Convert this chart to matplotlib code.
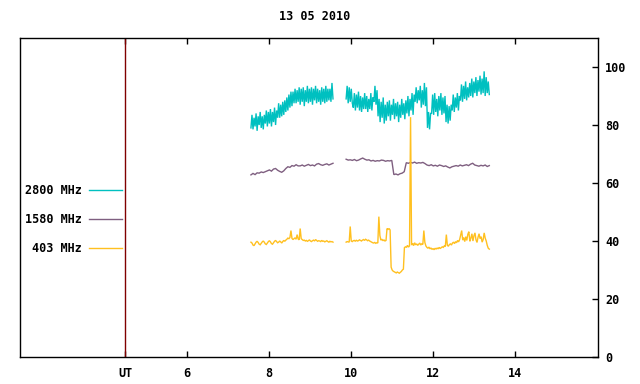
import numpy as np
import matplotlib
matplotlib.use("Agg")
import matplotlib.pyplot as plt
from matplotlib.lines import Line2D

title = "13 05 2010"
labels = ["2800 MHz", "1580 MHz", "403 MHz"]
colors = ["#00C0C0", "#7F5F80", "#FFC020"]
xticks = [4.5, 6, 8, 10, 12, 14]
xticklabels = ["UT", "6", "8", "10", "12", "14"]
yticks = [0, 20, 40, 60, 80, 100]
ut_line = 4.5

# segment time spans (hours UT)
seg1_span = (7.56, 9.56)
seg2_span = (9.88, 13.37)

# 2800 MHz
f2800_seg1 = [79, 83.5, 78.5, 82.5, 79.5, 84, 78, 83, 80, 84.5, 79, 83, 78.5, 83.5,
              80.5, 85, 79.5, 84.5, 80.5, 85.5, 79.5, 84.5, 81, 86, 80, 85,
              82.5, 87.5, 82.5, 87, 83, 88, 83.5, 88.5,
              84.5, 89.5, 85, 90.5, 86, 91.5, 86.5, 91.5,
              87.5, 92.5, 87.5, 92, 88, 93, 87, 92.5, 88, 93, 86.5, 92, 88, 93.5,
              87.5, 92.5, 88, 93, 87, 92.5, 88.5, 93.5, 87.5, 92.5, 88, 92, 87, 93,
              88, 92.5, 87.5, 93.5, 88, 92.5, 88.5, 92.5, 88, 94.5, 89]
f2800_seg2 = [89, 93.5, 87.5, 93, 88, 92.5, 87.5,
              86, 91, 85, 90.5, 86, 91.5, 85, 90, 84.5, 89.5, 85.5, 91, 85.5, 90,
              84.5, 89, 85.5, 91, 85, 89.5,
              88, 93.5, 87, 92,
              83, 89, 81, 88, 82.5, 89.5, 80.5, 87, 81.5, 88,
              83, 88.5, 81.5, 87, 83.5, 89, 82, 87.5, 83, 88, 81, 87, 82.5, 89,
              83.5, 87.5, 82, 88.5,
              84, 90, 83, 89, 85, 91, 83.5, 90.5,
              88, 93, 87.5, 92, 88.5, 93.5,
              86, 92, 87, 94.5, 86.5, 93,
              79, 84.5, 78.5, 84,
              84, 90.5, 83.5, 91, 84.5, 89, 83, 90, 85, 91, 83.5, 89.5, 84, 90,
              81, 87, 80.5, 86.5, 81.5, 87,
              85, 90.5, 84.5, 89.5, 86, 91, 85, 90,
              88.5, 94, 88, 93.5, 89, 95, 88.5, 93, 89.5, 94.5,
              90, 96, 89.5, 95, 91, 96.5, 90, 95.5, 91.5, 97, 90.5, 96, 91, 98.5,
              90, 96.5, 91, 95, 90.5]

# 1580 MHz
f1580_seg1 = [62.8, 63.3, 62.9, 63.5, 63.4, 63.8, 63.6,
              63.9, 64.2, 64.5, 64.1, 64.8, 65.0, 64.4,
              64.0, 63.7, 64.2,
              65.0, 65.6, 65.4, 66.0, 65.8, 66.3, 65.9,
              65.9, 66.2, 65.8, 66.1, 66.4, 66.0, 66.2, 65.9, 66.5, 66.7, 66.3,
              66.1, 66.4, 66.6, 66.2, 66.5, 66.8]
f1580_seg2 = [68.2, 67.9, 68.0, 67.8, 68.1, 67.7, 67.9, 68.3, 68.6, 68.2, 67.9,
              68.0, 67.6, 67.8, 67.5, 67.7, 67.6, 67.9, 67.8, 67.5, 67.7, 67.6, 67.8,
              62.9, 63.1, 62.8, 63.2, 63.4, 63.9,
              67.0, 66.8, 67.1, 66.9, 67.2, 66.8, 67.0, 66.9, 67.1, 66.7,
              66.2, 66.0, 66.3, 65.9, 66.1, 65.8, 66.2, 66.0, 65.7, 65.9,
              65.5, 65.2, 65.6, 65.8,
              66.0, 65.8, 66.2, 65.9, 66.1, 66.3, 66.0, 66.5, 66.8, 66.2, 66.0,
              65.8, 66.1, 65.9, 66.2, 65.7, 66.0]

# 403 MHz
f403_seg1 = [39.6, 39.3, 38.6, 38.4, 39.0, 39.6, 39.9, 39.5, 38.9, 38.7, 39.2,
             39.7, 40.0, 39.6, 39.0, 38.8, 39.3, 39.8, 40.1, 39.7, 39.1, 38.9,
             39.4, 39.9, 40.2, 39.8, 39.4, 39.6, 40.0, 39.7, 39.3, 39.8, 40.2, 39.9,
             40.3, 40.6, 41.0, 40.8, 41.2, 43.6, 40.9, 40.5, 40.8, 41.1, 40.6,
             42.2, 40.7, 40.4, 44.3, 40.8, 40.5, 40.2,
             40.3, 40.0, 40.2, 39.9, 40.1, 40.4, 40.0, 39.8, 40.1, 40.3, 40.0,
             40.5, 40.2, 39.9, 40.1, 40.0, 39.8, 40.2, 39.9, 40.0, 39.7, 39.9,
             40.1, 39.8, 39.6, 39.9, 39.7, 39.8, 39.6]
f403_seg2 = [39.6, 39.8, 39.7, 39.6, 45.0,
             40.0, 39.8, 40.1, 40.2, 39.9, 40.3, 40.0, 40.1, 40.4, 40.2, 40.0,
             40.3, 40.5, 40.2, 40.6, 40.4, 40.1, 40.3, 40.0, 39.8, 39.6, 39.4,
             39.3, 39.5, 39.2, 39.4, 39.3,
             48.4, 41.9,
             40.3, 40.6, 40.1, 40.4, 40.0, 40.2,
             44.3, 44.0, 44.3, 43.8,
             31.0,
             30.0, 29.6, 29.4, 29.2, 29.0, 29.3, 29.1, 28.9, 29.2, 29.5, 30.0,
             30.3, 37.7,
             38.0, 37.8, 38.5, 37.9, 38.3,
             82.7,
             38.6, 39.2, 38.4, 39.4, 38.7, 39.0, 38.5, 38.9, 39.3, 38.6, 39.1, 38.8,
             43.6,
             39.5, 38.3, 37.8, 37.5, 37.9, 37.3, 37.6, 37.1, 37.4, 37.0, 37.5,
             37.2, 37.6, 37.3, 37.8, 37.4, 37.7,
             38.0, 37.8, 38.3, 38.1,
             42.2,
             38.5, 38.2, 38.8, 39.0, 38.6, 39.3, 39.6, 39.1, 39.8, 39.4, 40.2, 39.7,
             40.5, 42.0, 43.6, 40.3, 41.2, 39.8, 41.5, 40.2, 42.3, 43.2, 39.9,
             41.0, 42.5, 40.0, 41.8, 42.8, 40.4, 39.5, 41.3, 42.5, 40.8, 41.5,
             39.6, 40.5, 42.8, 41.0,
             40.0, 38.5, 37.5, 37.2]

series = [(f2800_seg1, f2800_seg2), (f1580_seg1, f1580_seg2), (f403_seg1, f403_seg2)]

FONT = "DejaVu Sans Mono"
FS = 8.5

fig = plt.figure(figsize=(6.4, 3.84), dpi=100)
ax = fig.add_axes([20/640, 1-357/384, (598-20)/640, (357-38)/384])

handles = []
for (s1, s2), c, lab in zip(series, colors, labels):
    t1 = np.linspace(seg1_span[0], seg1_span[1], len(s1))
    t2 = np.linspace(seg2_span[0], seg2_span[1], len(s2))
    ax.plot(t1, s1, color=c, lw=1.0, solid_joinstyle="miter")
    ax.plot(t2, s2, color=c, lw=1.0, solid_joinstyle="miter")
    handles.append(Line2D([], [], color=c, lw=1.0))

ax.axvline(ut_line, color="#800000", lw=1.0)

ax.set_xlim(1.93, 16.02)
ax.set_ylim(0, 110)
ax.set_xticks(xticks)
ax.set_xticklabels(xticklabels)
ax.yaxis.tick_right()
ax.set_yticks(yticks)
ax.set_yticklabels([str(v) for v in yticks])
ax.tick_params(axis="x", direction="in", length=4, width=1, top=True, bottom=True, pad=7)
ax.tick_params(axis="y", direction="in", length=4, width=1, right=True, left=False, pad=5)
for lbl in ax.get_xticklabels() + ax.get_yticklabels():
    lbl.set_fontfamily(FONT)
    lbl.set_fontsize(FS)
    lbl.set_fontweight("bold")
for sp in ax.spines.values():
    sp.set_linewidth(1.0)

leg = ax.legend(handles, labels, markerfirst=False, frameon=False,
                loc="upper right", bbox_to_anchor=(122/640, 1-184/384),
                bbox_transform=fig.transFigure, borderpad=0, borderaxespad=0,
                handlelength=2.8, handletextpad=0.6, labelspacing=1.34,
                prop={"family": FONT, "size": FS, "weight": "bold"})
for t in leg.get_texts():
    t.set_ha("right")

fig.text(315/640, 1-17/384, title, ha="center", va="center",
         fontfamily=FONT, fontsize=FS, fontweight="bold")

fig.savefig("out.png", dpi=100)
